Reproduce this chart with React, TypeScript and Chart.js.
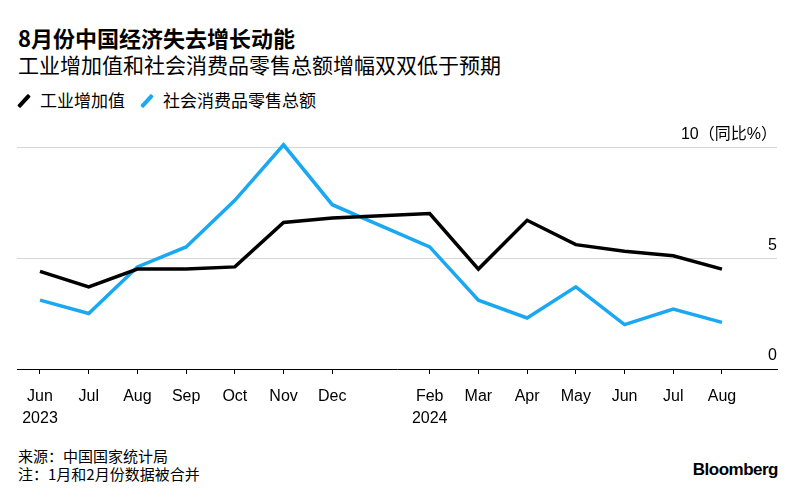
import React, { useEffect, useRef } from "react";
import { Chart, registerables } from "chart.js";

Chart.register(...registerables);

const months = ["Jun", "Jul", "Aug", "Sep", "Oct", "Nov", "Dec", "Jan", "Feb", "Mar", "Apr", "May", "Jun", "Jul", "Aug"];
const yearLabels: Record<number, string> = { 0: "2023", 8: "2024" };
const skippedIndex = 7; // Jan merged with Feb
const industrial: (number | null)[] = [4.4, 3.7, 4.5, 4.5, 4.6, 6.6, 6.8, null, 7.0, 4.5, 6.7, 5.6, 5.3, 5.1, 4.5];
const retail: (number | null)[] = [3.1, 2.5, 4.6, 5.5, 7.6, 10.1, 7.4, null, 5.5, 3.1, 2.3, 3.7, 2.0, 2.7, 2.1];
const yTicks = [0, 5, 10];
const yTickLabels: Record<number, string> = { 0: "0", 5: "5", 10: "10（同比%）" };

const BLACK = "#000000";
const BLUE = "#1aa8f2";
const FONT = "'Liberation Sans', 'Noto Sans CJK SC', sans-serif";
const CJK = "'Noto Sans CJK SC', 'Liberation Sans', sans-serif";

const toPoints = (arr: (number | null)[]) =>
  arr.map((v, i) => ({ x: i, y: v })).filter((p) => p.y !== null);

const yLabelPlugin = {
  id: "yLabels",
  afterDraw(chart: any) {
    const { ctx, chartArea, scales } = chart;
    ctx.save();
    ctx.fillStyle = "#000";
    ctx.font = `16px ${FONT}`;
    ctx.textAlign = "right";
    ctx.textBaseline = "alphabetic";
    for (const v of yTicks) {
      const y = scales.y.getPixelForValue(v);
      ctx.fillText(yTickLabels[v], chartArea.right, y - (v === 0 ? 9 : 8));
    }
    ctx.restore();
  },
};

export default function App() {
  const ref = useRef<HTMLCanvasElement>(null);
  useEffect(() => {
    if (!ref.current) return;
    const chart = new Chart(ref.current, {
      type: "line",
      data: {
        datasets: [
          {
            label: "工业增加值",
            data: toPoints(industrial) as any,
            borderColor: BLACK,
            borderWidth: 3.5,
            pointRadius: 0,
            clip: false as any,
            borderJoinStyle: "miter",
          },
          {
            label: "社会消费品零售总额",
            data: toPoints(retail) as any,
            borderColor: BLUE,
            borderWidth: 3.5,
            pointRadius: 0,
            clip: false as any,
            borderJoinStyle: "miter",
          },
        ],
      },
      options: {
        animation: false,
        responsive: false,
        maintainAspectRatio: false,
        layout: { padding: { left: 17, right: 23, top: 37, bottom: 0 } },
        plugins: { legend: { display: false }, tooltip: { enabled: false } },
        scales: {
          x: {
            type: "linear",
            min: -0.472,
            max: 15.13,
            afterBuildTicks: (scale: any) => {
              scale.ticks = months
                .map((_, i) => ({ value: i }))
                .filter((t) => t.value !== skippedIndex);
            },
            afterFit: (scale: any) => {
              scale.height = 71;
            },
            ticks: {
              autoSkip: false,
              maxRotation: 0,
              padding: 11,
              color: "#000",
              font: { family: FONT, size: 16, lineHeight: 1.4 },
              callback: (v: any) => {
                const i = Number(v);
                const m = months[i];
                return yearLabels[i] ? [m, yearLabels[i]] : m;
              },
            },
            grid: {
              drawOnChartArea: false,
              drawTicks: true,
              tickLength: 5,
              color: "#000",
              tickColor: "#000",
              lineWidth: 1,
            },
            border: { display: true, color: "#000", width: 1 },
          },
          y: {
            position: "right",
            min: 0,
            max: 10,
            afterBuildTicks: (scale: any) => {
              scale.ticks = yTicks.map((v) => ({ value: v }));
            },
            afterFit: (scale: any) => {
              scale.width = 0;
            },
            ticks: { display: false },
            grid: {
              drawTicks: false,
              color: (c: any) => (c.tick && c.tick.value === 0 ? "rgba(0,0,0,0)" : "#d6d6d6"),
              lineWidth: 1,
            },
            border: { display: false },
          },
        },
      },
      plugins: [yLabelPlugin],
    });
    return () => chart.destroy();
  }, []);

  const legendIcon = (color: string, ml: number) => (
    <span
      style={{
        display: "inline-block",
        width: 4,
        height: 16,
        background: color,
        transform: "rotate(42deg)",
        marginRight: 14,
        marginLeft: ml,
        verticalAlign: "-2px",
        borderRadius: 1,
      }}
    />
  );

  return (
    <div style={{ position: "absolute", left: 0, top: 0, width: 800, height: 502, background: "#fff", overflow: "hidden" }}>
      <div style={{ position: "absolute", left: 18, top: 23, font: `bold 22px ${CJK}`, color: "#000", lineHeight: "28px", whiteSpace: "nowrap" }}>
        8月份中国经济失去增长动能
      </div>
      <div style={{ position: "absolute", left: 18, top: 50, font: `21px ${CJK}`, color: "#000", lineHeight: "28px", whiteSpace: "nowrap" }}>
        工业增加值和社会消费品零售总额增幅双双低于预期
      </div>
      <div style={{ position: "absolute", left: 17, top: 88, font: `17px ${CJK}`, color: "#000", lineHeight: "24px", whiteSpace: "nowrap" }}>
        {legendIcon(BLACK, 5)}
        <span style={{ marginRight: 14 }}>工业增加值</span>
        {legendIcon(BLUE, 6)}
        <span>社会消费品零售总额</span>
      </div>
      <canvas ref={ref} width={800} height={330} style={{ position: "absolute", left: 0, top: 110, width: 800, height: 330 }} />
      <div style={{ position: "absolute", left: 18, top: 447, font: `15px ${CJK}`, color: "#000", lineHeight: "18px", whiteSpace: "nowrap" }}>
        <div>来源：中国国家统计局</div>
        <div>注：1月和2月份数据被合并</div>
      </div>
      <div style={{ position: "absolute", right: 22, top: 460, font: `bold 17px ${FONT}`, color: "#000", letterSpacing: "-0.5px", whiteSpace: "nowrap" }}>
        Bloomberg
      </div>
    </div>
  );
}
